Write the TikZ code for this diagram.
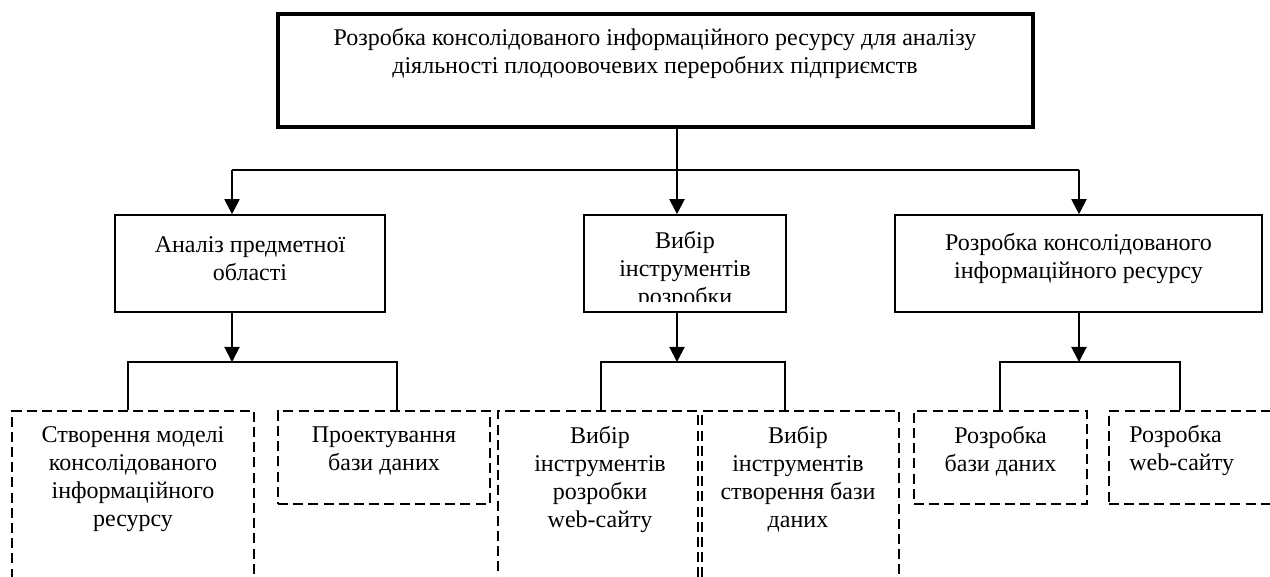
\documentclass[tikz,border=0pt]{standalone}
\usepackage{fontspec}
\setmainfont{Liberation Serif}
\usetikzlibrary{arrows.meta}
\begin{document}
\begin{tikzpicture}[x=0.5pt,y=-0.5pt,
  boxtop/.style={draw,line width=1.7pt,inner sep=0pt},
  boxmid/.style={draw,line width=0.8pt,inner sep=0pt},
  boxdash/.style={draw,line width=0.8pt,inner sep=0pt,dash pattern=on 5pt off 2.6pt},
  txt/.style={inner sep=0pt,align=center,font=\fontsize{12pt}{14pt}\selectfont},
  conn/.style={line width=1pt},
  arr/.style={line width=1pt,-{Triangle[length=7.5pt,width=7.5pt]}}]
\clip (0,0) rectangle (1270,577);
% boxes
\node[boxtop,minimum width=377.5pt,minimum height=56.5pt] (top) at (655.5,70.5) {};
\node[boxmid,minimum width=135pt,minimum height=48.5pt] (m1) at (250,263.5) {};
\node[boxmid,minimum width=101pt,minimum height=48.5pt] (m2) at (685,263.5) {};
\node[boxmid,minimum width=183.5pt,minimum height=48.5pt] (m3) at (1078.5,263.5) {};
\node[boxdash,minimum width=121pt,minimum height=120pt] (b1) at (133,531) {};
\node[boxdash,minimum width=106pt,minimum height=46.5pt] (b2) at (384,457.5) {};
\node[boxdash,minimum width=100pt,minimum height=120pt] (b3) at (598,531) {};
\node[boxdash,minimum width=98.5pt,minimum height=120pt] (b4) at (800.5,531) {};
\node[boxdash,minimum width=86.5pt,minimum height=46.5pt] (b5) at (1000.5,457.5) {};
\node[boxdash,minimum width=120pt,minimum height=46.5pt,anchor=west] (b6) at (1108,457.5) {};
% texts
\node[txt] (ttop) at (655,53.5) {Розробка консолідованого інформаційного ресурсу для аналізу\\діяльності плодоовочевих переробних підприємств};
\node[txt] (tm1) at (250,258.5) {Аналіз предметної\\області};
\begin{scope}
\clip (584,215) rectangle (786,302);
\node[txt] (tm2) at (685,270) {Вибір\\інструментів\\розробки};
\end{scope}
\node[txt] (tm3) at (1078.5,258.5) {Розробка консолідованого\\інформаційного ресурсу};
\node[txt] (tb1) at (133,479) {Створення моделі\\консолідованого\\інформаційного\\ресурсу};
\node[txt] (tb2) at (384,451) {Проектування\\бази даних};
\node[txt] (tb3) at (600,479) {Вибір\\інструментів\\розробки\\web-сайту};
\node[txt] (tb4) at (798,479) {Вибір\\інструментів\\створення бази\\даних};
\node[txt] (tb5) at (1000.5,451) {Розробка\\бази даних};
\node[txt,align=left,anchor=west] (tb6) at (1129,451) {Розробка\\web-сайту};
% connectors level 1
\coordinate (j) at (677,170);
\coordinate (jl) at (232,170);
\coordinate (jr) at (1079,170);
\draw[conn] (top.south -| j) -- (j);
\draw[conn] (jl) -- (jr);
\draw[arr] (j) -- (j |- m2.north);
\draw[arr] (jl) -- (jl |- m1.north);
\draw[arr] (jr) -- (jr |- m3.north);
% brackets
\coordinate (k1) at (232,362);
\coordinate (k1l) at (128,362);
\coordinate (k1r) at (397,362);
\draw[arr] (m1.south -| k1) -- (k1);
\draw[conn] (k1l |- b1.north) -- (k1l) -- (k1r) -- (k1r |- b2.north);
\coordinate (k2) at (677,362);
\coordinate (k2l) at (601,362);
\coordinate (k2r) at (785,362);
\draw[arr] (m2.south -| k2) -- (k2);
\draw[conn] (k2l |- b3.north) -- (k2l) -- (k2r) -- (k2r |- b4.north);
\coordinate (k3) at (1079,362);
\coordinate (k3l) at (1000,362);
\coordinate (k3r) at (1180,362);
\draw[arr] (m3.south -| k3) -- (k3);
\draw[conn] (k3l |- b5.north) -- (k3l) -- (k3r) -- (k3r |- b6.north);
\end{tikzpicture}
\end{document}
